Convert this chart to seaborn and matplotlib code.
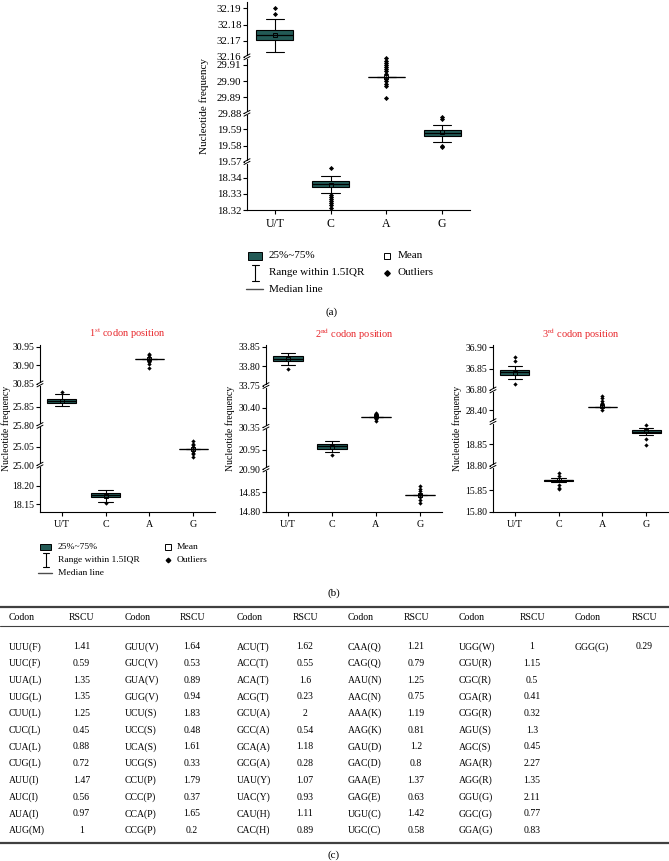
import numpy as np
import pandas as pd
import matplotlib.pyplot as plt
import seaborn as sns
from matplotlib.lines import Line2D
from matplotlib.patches import Rectangle

W, H = 669, 861
TEAL = "#235a56"
RED = "#e8262b"

bases = ["U/T", "C", "A", "G"]

# ---- (a) whole genome: box statistics ----
a_q1 = [32.1702, 18.3344, 29.9025, 19.5859]
a_med = [32.1735, 18.3361, 29.9025, 19.5875]
a_q3 = [32.1767, 18.3378, 29.9025, 19.5898]
a_lo = [32.1628, 18.3303, 29.9025, 19.5823]
a_hi = [32.1835, 18.3413, 29.9025, 19.5928]
a_mean = [32.1738, 18.3358, 29.9022, 19.5885]
a_fliers = [[32.1867, 32.1904],
            [18.3458, 18.3292, 18.3280, 18.3267, 18.3254, 18.3241, 18.3228, 18.3215],
            [29.9143, 29.9126, 29.9111, 29.9098, 29.9085, 29.9072, 29.9060, 29.9042,
             29.9014, 29.8999, 29.8984, 29.8969, 29.8892],
            [19.5975, 19.5963, 19.5800, 19.5790]]
a_segs = [(18.32, 18.35), (19.57, 19.60), (29.88, 29.915), (32.16, 32.194)]
a_ticks = [18.32, 18.33, 18.34, 19.57, 19.58, 19.59, 29.88, 29.89, 29.90, 29.91,
           32.16, 32.17, 32.18, 32.19]

# ---- (b) 1st codon position ----
b1_q1 = [25.860, 18.168, 30.9164, 25.0437]
b1_med = [25.8664, 18.1746, 30.9164, 25.0437]
b1_q3 = [25.8719, 18.180, 30.9164, 25.0437]
b1_lo = [25.852, 18.156, 30.9164, 25.0437]
b1_hi = [25.884, 18.189, 30.9164, 25.0437]
b1_mean = [25.865, 18.173, 30.917, 25.044]
b1_fliers = [[25.891], [18.1535],
             [30.932, 30.927, 30.923, 30.914, 30.909, 30.905, 30.894],
             [25.064, 25.057, 25.053, 25.048, 25.039, 25.034, 25.029, 25.023]]
b1_segs = [(18.13, 18.255), (25.00, 25.107), (25.80, 25.912), (30.85, 30.955)]
b1_ticks = [18.15, 18.20, 25.00, 25.05, 25.80, 25.85, 30.85, 30.90, 30.95]

# ---- (b) 2nd codon position ----
b2_q1 = [33.814, 20.9518, 30.3775, 14.842]
b2_med = [33.820, 20.959, 30.3775, 14.842]
b2_q3 = [33.827, 20.964, 30.3775, 14.842]
b2_lo = [33.802, 20.943, 30.3775, 14.842]
b2_hi = [33.835, 20.973, 30.3775, 14.842]
b2_mean = [33.819, 20.958, 30.378, 14.842]
b2_fliers = [[33.794], [20.936],
             [30.3875, 30.383, 30.379, 30.3725, 30.367],
             [14.865, 14.859, 14.853, 14.846, 14.838, 14.831, 14.822]]
b2_segs = [(14.80, 14.91), (20.90, 21.008), (30.35, 30.458), (33.75, 33.855)]
b2_ticks = [14.80, 14.85, 20.90, 20.95, 30.35, 30.40, 33.75, 33.80, 33.85]

# ---- (b) 3rd codon position ----
b3_q1 = [36.834, 15.872, 28.408, 18.876]
b3_med = [36.841, 15.873, 28.408, 18.879]
b3_q3 = [36.846, 15.874, 28.408, 18.883]
b3_lo = [36.825, 15.870, 28.408, 18.8714]
b3_hi = [36.856, 15.878, 28.408, 18.889]
b3_mean = [36.840, 15.873, 28.410, 18.880]
b3_fliers = [[36.877, 36.867, 36.814],
             [15.889, 15.883, 15.862, 15.856, 15.852],
             [28.435, 28.4295, 28.423, 28.417, 28.412, 28.4017],
             [18.895, 18.862, 18.848]]
b3_segs = [(15.80, 15.907), (18.80, 18.903), (28.374, 28.448), (36.80, 36.905)]
b3_ticks = [15.80, 15.85, 18.80, 18.85, 28.40, 36.80, 36.85, 36.90]

# ---- (c) RSCU table ----
codons = [
    ["UUU(F)", "UUC(F)", "UUA(L)", "UUG(L)", "CUU(L)", "CUC(L)", "CUA(L)", "CUG(L)",
     "AUU(I)", "AUC(I)", "AUA(I)", "AUG(M)"],
    ["GUU(V)", "GUC(V)", "GUA(V)", "GUG(V)", "UCU(S)", "UCC(S)", "UCA(S)", "UCG(S)",
     "CCU(P)", "CCC(P)", "CCA(P)", "CCG(P)"],
    ["ACU(T)", "ACC(T)", "ACA(T)", "ACG(T)", "GCU(A)", "GCC(A)", "GCA(A)", "GCG(A)",
     "UAU(Y)", "UAC(Y)", "CAU(H)", "CAC(H)"],
    ["CAA(Q)", "CAG(Q)", "AAU(N)", "AAC(N)", "AAA(K)", "AAG(K)", "GAU(D)", "GAC(D)",
     "GAA(E)", "GAG(E)", "UGU(C)", "UGC(C)"],
    ["UGG(W)", "CGU(R)", "CGC(R)", "CGA(R)", "CGG(R)", "AGU(S)", "AGC(S)", "AGA(R)",
     "AGG(R)", "GGU(G)", "GGC(G)", "GGA(G)"],
    ["GGG(G)"],
]
rscu = [
    [1.41, 0.59, 1.35, 1.35, 1.25, 0.45, 0.88, 0.72, 1.47, 0.56, 0.97, 1],
    [1.64, 0.53, 0.89, 0.94, 1.83, 0.48, 1.61, 0.33, 1.79, 0.37, 1.65, 0.2],
    [1.62, 0.55, 1.6, 0.23, 2, 0.54, 1.18, 0.28, 1.07, 0.93, 1.11, 0.89],
    [1.21, 0.79, 1.25, 0.75, 1.19, 0.81, 1.2, 0.8, 1.37, 0.63, 1.42, 0.58],
    [1, 1.15, 0.5, 0.41, 0.32, 1.3, 0.45, 2.27, 1.35, 2.11, 0.77, 0.83],
    [0.29],
]

sns.set_theme(style="ticks")
plt.rcParams["font.family"] = ["Liberation Serif", "DejaVu Serif"]
plt.rcParams["mathtext.fontset"] = "stix"
for k in ["text.color", "axes.labelcolor", "xtick.color", "ytick.color", "axes.edgecolor"]:
    plt.rcParams[k] = "black"

fig = plt.figure(figsize=(W / 100, H / 100), dpi=100)


def fx(x):
    return x / W


def fy(y):
    return 1 - y / H


def broken_scale(segs):
    data_pts, unit_pts, u = [], [], 0.0
    for lo, hi in segs:
        data_pts += [lo, hi]
        unit_pts += [u, u + hi - lo]
        u += hi - lo + 1e-6
    fwd = lambda v: np.interp(v, data_pts, unit_pts)
    inv = lambda v: np.interp(v, unit_pts, data_pts)
    return fwd, inv, unit_pts


def box_panel(rect, q1, med, q3, lo, hi, mean, fliers, segs, ticks,
              fs_tick, fs_cat, msize):
    x0, y0, x1, y1 = rect  # pixel box: left, top, right, bottom
    ax = fig.add_axes([fx(x0), fy(y1), (x1 - x0) / W, (y1 - y0) / H])
    fwd, inv, up = broken_scale(segs)
    ax.set_yscale("function", functions=(fwd, inv))

    df = pd.DataFrame([(b, v) for b, vals in zip(bases, fliers) for v in vals],
                      columns=["base", "value"])
    sns.stripplot(data=df, x="base", y="value", order=bases, jitter=False,
                  marker="D", color="black", size=msize, linewidth=0, ax=ax, zorder=5)

    stats = [dict(q1=q1[i], med=med[i], q3=q3[i], whislo=lo[i], whishi=hi[i],
                  mean=mean[i], fliers=[]) for i in range(4)]
    ax.bxp(stats, positions=range(4), widths=0.66, showmeans=True, showfliers=False,
           patch_artist=True, manage_ticks=False,
           boxprops=dict(facecolor=TEAL, edgecolor="black", linewidth=0.8),
           medianprops=dict(color="black", linewidth=0.9),
           whiskerprops=dict(color="black", linewidth=0.8),
           capprops=dict(color="black", linewidth=0.8),
           meanprops=dict(marker="s", markerfacecolor="none", markeredgecolor="black",
                          markersize=msize + 0.6, markeredgewidth=0.7))

    ax.set_xlim(-0.5, 3.5)
    ax.set_ylim(segs[0][0], segs[-1][1])
    ax.set_yticks(ticks)
    ax.set_yticklabels([f"{t:.2f}" for t in ticks])
    ax.set_xticks(range(4))
    ax.set_xticklabels(bases)
    ax.set_xlabel("")
    ax.set_ylabel("")
    ax.tick_params(axis="y", labelsize=fs_tick, length=3, width=0.8, pad=1)
    ax.tick_params(axis="x", labelsize=fs_cat, length=3, width=0.8, pad=3)
    for s in ax.spines.values():
        s.set_linewidth(0.8)
    sns.despine(ax=ax)

    # break marks on the y spine
    w_px, h_px = x1 - x0, y1 - y0
    dx, dy, gap = 3.0 / w_px, 1.6 / h_px, 2.6 / h_px
    for j in range(len(segs) - 1):
        f = (up[2 * j + 1] + 5e-7) / up[-1]
        ax.plot([-1.2 / w_px, 1.2 / w_px], [f, f], transform=ax.transAxes,
                color="white", lw=2.2, clip_on=False, zorder=6)
        for off in (-gap / 2, gap / 2):
            ax.plot([-dx, dx], [f + off - dy, f + off + dy], transform=ax.transAxes,
                    color="black", lw=0.7, clip_on=False, zorder=7)
    return ax


def draw_key(x0, y0, dy, tx, mx, fs, s):
    fig.add_artist(Rectangle((fx(x0), fy(y0 + 4 * s)), 14 * s / W, 8 * s / H,
                             facecolor=TEAL, edgecolor="black", lw=0.7,
                             transform=fig.transFigure))
    fig.text(fx(x0 + tx), fy(y0), "25%~75%", fontsize=fs, va="center")
    xc, y1 = x0 + 7 * s, y0 + dy
    fig.add_artist(Line2D([fx(xc), fx(xc)], [fy(y1 - 8 * s), fy(y1 + 8 * s)],
                          color="black", lw=0.8))
    for yy in (y1 - 8 * s, y1 + 8 * s):
        fig.add_artist(Line2D([fx(xc - 3.5 * s), fx(xc + 3.5 * s)], [fy(yy), fy(yy)],
                              color="black", lw=0.8))
    fig.text(fx(x0 + tx), fy(y1), "Range within 1.5IQR", fontsize=fs, va="center")
    y2 = y0 + 2 * dy
    fig.add_artist(Line2D([fx(x0 - 2 * s), fx(x0 + 15 * s)], [fy(y2), fy(y2)],
                          color="0.3", lw=1.0))
    fig.text(fx(x0 + tx), fy(y2), "Median line", fontsize=fs, va="center")
    fig.add_artist(Line2D([fx(mx)], [fy(y0)], marker="s", ls="none", mfc="none",
                          mec="black", ms=4.5 * s, mew=0.7))
    fig.text(fx(mx + 11 * s), fy(y0), "Mean", fontsize=fs, va="center")
    fig.add_artist(Line2D([fx(mx)], [fy(y1)], marker="D", ls="none", mfc="black",
                          mec="black", ms=2.8 * s))
    fig.text(fx(mx + 11 * s), fy(y1), "Outliers", fontsize=fs, va="center")


# ---------- panel (a) ----------
box_panel((247, 2, 470, 210), a_q1, a_med, a_q3, a_lo, a_hi, a_mean, a_fliers,
          a_segs, a_ticks, fs_tick=7.8, fs_cat=8.5, msize=2.6)
fig.text(fx(204), fy(106), "Nucleotide frequency", rotation=90, ha="center",
         va="center", fontsize=8)
draw_key(248, 256, 16.5, 21, 387, 8, 1.0)
fig.text(fx(332), fy(312), "(a)", ha="center", va="center", fontsize=8)

# ---------- panel (b) ----------
b_panels = [
    ((40, 345, 215, 511.5), b1_q1, b1_med, b1_q3, b1_lo, b1_hi, b1_mean, b1_fliers,
     b1_segs, b1_ticks, "1$^{\\mathrm{st}}$ codon position", 6),
    ((266, 345, 442, 511.5), b2_q1, b2_med, b2_q3, b2_lo, b2_hi, b2_mean, b2_fliers,
     b2_segs, b2_ticks, "2$^{\\mathrm{nd}}$ codon position", 230),
    ((493, 345, 668, 511.5), b3_q1, b3_med, b3_q3, b3_lo, b3_hi, b3_mean, b3_fliers,
     b3_segs, b3_ticks, "3$^{\\mathrm{rd}}$ codon position", 457),
]
for rect, q1, med, q3, lo, hi, mean, fl, segs, ticks, title, ylx in b_panels:
    box_panel(rect, q1, med, q3, lo, hi, mean, fl, segs, ticks,
              fs_tick=7, fs_cat=7.2, msize=2.2)
    fig.text(fx((rect[0] + rect[2]) / 2), fy(334), title, color=RED, ha="center",
             va="center", fontsize=7.5)
    fig.text(fx(ylx), fy(428), "Nucleotide frequency", rotation=90, ha="center",
             va="center", fontsize=7)
draw_key(40, 547, 13, 18, 168, 6.8, 0.82)
fig.text(fx(334), fy(593), "(b)", ha="center", va="center", fontsize=8)

# ---------- panel (c): RSCU table ----------
codon_x = [8.6, 124.5, 237, 348, 459, 575]
rscu_x = [81.5, 192, 305, 416, 532, 644]
fig.add_artist(Line2D([0, 1], [fy(607), fy(607)], color="0.25", lw=1.6))
fig.add_artist(Line2D([0, 1], [fy(626), fy(626)], color="0.25", lw=0.8))
fig.add_artist(Line2D([0, 1], [fy(843), fy(843)], color="0.25", lw=1.6))
for c in range(6):
    fig.text(fx(codon_x[c]), fy(617), "Codon", ha="left", va="center", fontsize=7)
    fig.text(fx(rscu_x[c]), fy(617), "RSCU", ha="center", va="center", fontsize=7)
    for r, (cod, val) in enumerate(zip(codons[c], rscu[c])):
        y = 646.7 + 16.7 * r
        fig.text(fx(codon_x[c]), fy(y), cod, ha="left", va="center", fontsize=7)
        fig.text(fx(rscu_x[c]), fy(y), f"{val:g}", ha="center", va="center", fontsize=7)
fig.text(fx(334), fy(855), "(c)", ha="center", va="center", fontsize=8)

fig.savefig("out.png", dpi=100)
